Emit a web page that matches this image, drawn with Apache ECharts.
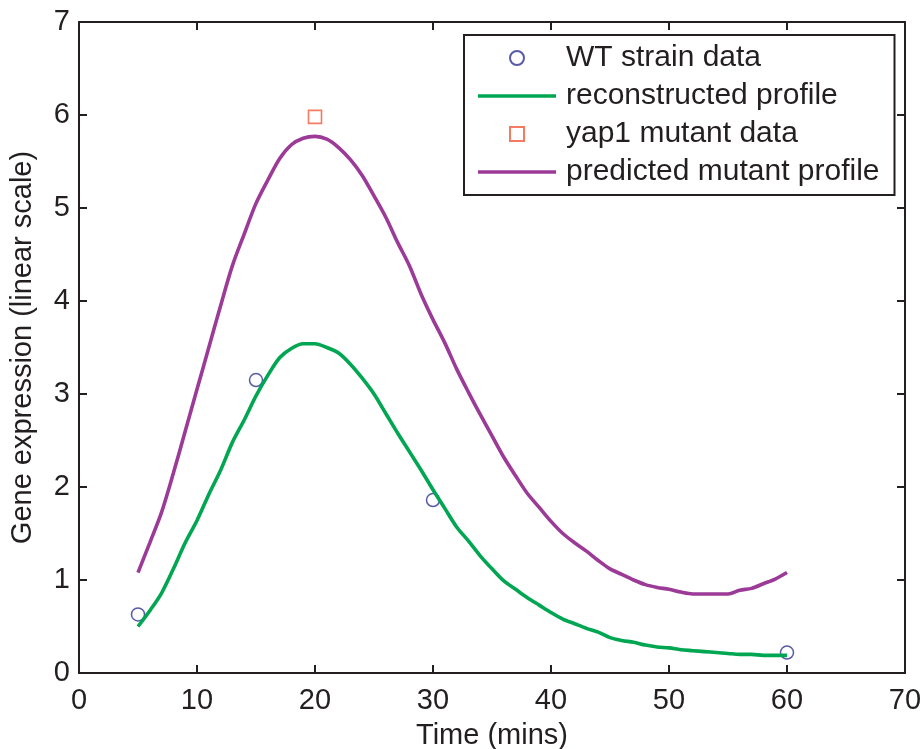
<!DOCTYPE html>
<html>
<head>
<meta charset="utf-8">
<script src="https://cdn.jsdelivr.net/npm/echarts@6/dist/echarts.min.js"></script>
<style>
html,body{margin:0;padding:0;background:#fff;}
#chart{width:922px;height:749px;}
</style>
</head>
<body>
<div id="chart"></div>
<script>
// ---- data ----
var wtTimes = [5, 15, 30, 60];
var wtValues = [0.63, 3.15, 1.86, 0.22];

var mutTimes = [20];
var mutValues = [5.98];

var curveTimes = [5,6,7,8,9,10,11,12,13,14,15,16,17,18,19,20,21,22,23,24,25,26,27,28,29,30,
  31,32,33,34,35,36,37,38,39,40,41,42,43,44,45,46,47,48,49,50,51,52,53,54,55,56,57,58,59,60];

var reconstructed = [0.50,0.67,0.86,1.12,1.40,1.64,1.92,2.18,2.48,2.72,2.98,3.20,3.39,3.49,3.54,3.54,3.50,3.44,3.32,3.17,3.00,2.79,2.58,2.38,2.18,1.97,
  1.77,1.57,1.42,1.26,1.12,0.99,0.90,0.81,0.73,0.65,0.58,0.53,0.48,0.44,0.38,0.35,0.33,0.30,0.28,0.27,0.25,0.24,0.23,0.22,0.21,0.20,0.20,0.19,0.19,0.19];

var predicted = [1.08,1.40,1.73,2.15,2.60,3.05,3.50,3.95,4.38,4.72,5.05,5.30,5.53,5.68,5.75,5.77,5.74,5.65,5.52,5.35,5.13,4.90,4.63,4.38,4.07,3.80,
  3.55,3.27,3.02,2.78,2.55,2.32,2.12,1.93,1.78,1.63,1.50,1.40,1.31,1.21,1.12,1.06,1.00,0.95,0.92,0.90,0.87,0.85,0.85,0.85,0.85,0.89,0.91,0.96,1.01,1.08];

var xTicks = {min: 0, max: 70, interval: 10};
var yTicks = {min: 0, max: 7, interval: 1};

var seriesNames = ['WT strain data', 'reconstructed profile', 'yap1 mutant data', 'predicted mutant profile'];

function pairs(xs, ys) { return xs.map(function (x, i) { return [x, ys[i]]; }); }

var ink = '#231f20';
var font = '"Liberation Sans", Arial, Helvetica, sans-serif';
var green = '#00a651';
var purple = '#9c3a97';
var blue = '#2e3192';
var orange = '#f15a3a';

var chart = echarts.init(document.getElementById('chart'), null, {renderer: 'canvas'});

var axisCommon = {
  axisLine: {show: true, onZero: false, lineStyle: {color: ink, width: 2}},
  axisTick: {show: true, inside: true, length: 8, lineStyle: {color: ink, width: 2}},
  splitLine: {show: false}
};

var lineIcon = 'path://M0,0L78,0L78,3.6L0,3.6Z';

var option = {
  backgroundColor: '#ffffff',
  animation: false,
  grid: {left: 79, top: 22, right: 17, bottom: 76, containLabel: false, outerBoundsMode: 'none'},
  xAxis: [
    Object.assign({}, axisCommon, {
      type: 'value', position: 'bottom', min: xTicks.min, max: xTicks.max, interval: xTicks.interval,
      name: 'Time (mins)', nameLocation: 'middle', nameGap: 48,
      nameTextStyle: {color: ink, fontSize: 29, fontFamily: font},
      axisLabel: {color: ink, fontSize: 29, fontFamily: font, margin: 13}
    }),
    Object.assign({}, axisCommon, {
      type: 'value', position: 'top', min: xTicks.min, max: xTicks.max, interval: xTicks.interval,
      axisLabel: {show: false}
    })
  ],
  yAxis: [
    Object.assign({}, axisCommon, {
      type: 'value', position: 'left', min: yTicks.min, max: yTicks.max, interval: yTicks.interval,
      name: 'Gene expression (linear scale)', nameLocation: 'middle', nameGap: 42, nameRotate: 90,
      nameTextStyle: {color: ink, fontSize: 29, fontFamily: font},
      axisLabel: {color: ink, fontSize: 29, fontFamily: font, margin: 9}
    }),
    Object.assign({}, axisCommon, {
      type: 'value', position: 'right', min: yTicks.min, max: yTicks.max, interval: yTicks.interval,
      axisLabel: {show: false}
    })
  ],
  legend: {
    show: true,
    left: 464, top: 35,
    orient: 'vertical',
    backgroundColor: '#ffffff',
    borderColor: ink, borderWidth: 2,
    padding: [8, 15, 8, 14],
    itemWidth: 78, itemHeight: 14, itemGap: 8,
    symbolKeepAspect: true,
    textStyle: {color: ink, fontSize: 30, fontFamily: font, lineHeight: 30, padding: [0, 0, 0, 5]},
    data: [
      {name: seriesNames[0], icon: 'circle'},
      {name: seriesNames[1], icon: lineIcon, itemStyle: {color: green, borderWidth: 0}},
      {name: seriesNames[2], icon: 'path://M0,0L10,0L10,10L0,10Z'},
      {name: seriesNames[3], icon: lineIcon, itemStyle: {color: purple, borderWidth: 0}}
    ]
  },
  series: [
    {
      name: seriesNames[0], type: 'scatter', xAxisIndex: 0, yAxisIndex: 0,
      symbol: 'circle', symbolSize: 13,
      itemStyle: {color: 'rgba(255,255,255,0)', borderColor: blue, borderWidth: 1.5},
      data: pairs(wtTimes, wtValues), z: 2
    },
    {
      name: seriesNames[1], type: 'line', xAxisIndex: 0, yAxisIndex: 0,
      symbol: 'none', smooth: 0.3,
      lineStyle: {color: green, width: 3.6}, itemStyle: {color: green},
      data: pairs(curveTimes, reconstructed), z: 3
    },
    {
      name: seriesNames[2], type: 'scatter', xAxisIndex: 0, yAxisIndex: 0,
      symbol: 'rect', symbolSize: 13,
      itemStyle: {color: 'rgba(255,255,255,0)', borderColor: orange, borderWidth: 1.6},
      data: pairs(mutTimes, mutValues), z: 4
    },
    {
      name: seriesNames[3], type: 'line', xAxisIndex: 0, yAxisIndex: 0,
      symbol: 'none', smooth: 0.3,
      lineStyle: {color: purple, width: 3.6}, itemStyle: {color: purple},
      data: pairs(curveTimes, predicted), z: 5
    }
  ]
};

chart.setOption(option);
</script>
</body>
</html>
